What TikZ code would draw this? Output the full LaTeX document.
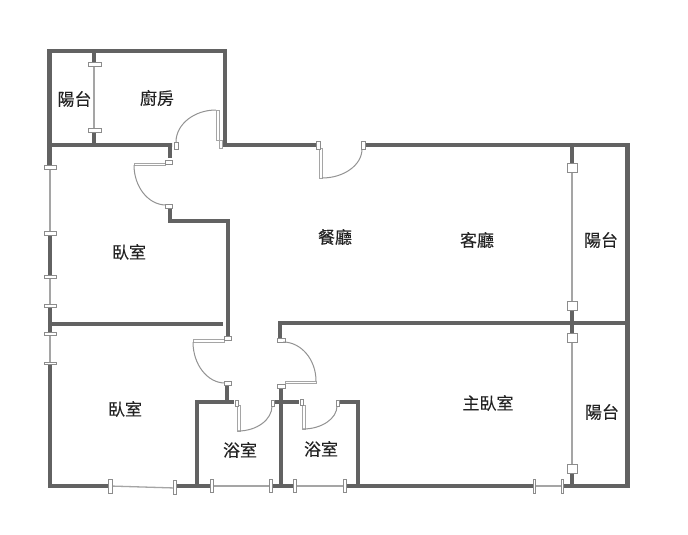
\documentclass[tikz,border=0pt]{standalone}
\usepackage{fontspec}
\newfontfamily\cjkfont[FakeBold=0.15]{Noto Sans CJK TC}
\usetikzlibrary{calc}
\definecolor{wallc}{RGB}{98,98,98}
\definecolor{linec}{RGB}{165,165,165}
\definecolor{textc}{RGB}{35,35,35}
\tikzset{
  wall/.style={draw=wallc,line width=4.5pt,line cap=butt,line join=miter},
  glass/.style={draw=linec,line width=1.3pt},
  capbox/.style={draw=linec!85!black,fill=white,line width=1pt},
  leaf/.style={draw=linec,fill=white,line width=1pt},
  swing/.style={draw=gray!85,line width=1pt},
  room/.style={font=\cjkfont\fontsize{17}{18}\selectfont,text=textc,inner sep=0pt}
}
\newcommand{\doorarc}[3]{\draw[swing] (#1) .. controls ($(#1)!.55!(#2)$) and ($(#3)!.55!(#2)$) .. (#3);}
\begin{document}
\begin{tikzpicture}[x=1pt,y=-1pt]
\useasboundingbox (0,0) rectangle (688,535);
\fill[white] (0,0) rectangle (688,535);
% glass lines
\draw[glass] (94,65) -- (94,130);
\draw[glass] (50,167) -- (50,232);
\draw[glass] (50,276) -- (50,305);
\draw[glass] (50,333) -- (50,363);
\draw[glass] (110,486) -- (175,488);
\draw[glass] (212,486) -- (271,486);
\draw[glass] (295,486) -- (344,486);
\draw[glass] (534,486) -- (562,486);
\draw[glass] (572,170) -- (572,303);
\draw[glass] (572,340) -- (572,466);
% walls
\draw[wall] (49.5,165) -- (49.5,51) -- (225,51) -- (225,145) -- (317,145);
\draw[wall] (94,51) -- (94,64);
\draw[wall] (94,131) -- (94,145);
\draw[wall] (49.5,145) -- (172,145) -- (170,145) -- (170,158);
\draw[wall] (170,208) -- (170,221) -- (228,221) -- (228,336);
\draw[wall] (50,234) -- (50,275);
\draw[wall] (50,306) -- (50,332);
\draw[wall] (50,324) -- (223,324);
\draw[wall] (50,364) -- (50,486) -- (110,486);
\draw[wall] (175,486) -- (212,486);
\draw[wall] (197,486) -- (197,402) -- (234,402);
\draw[wall] (227,386) -- (227,402);
\draw[wall] (271,486) -- (295,486);
\draw[wall] (281,486) -- (281,386);
\draw[wall] (274,402) -- (299,402);
\draw[wall] (339,402) -- (358,402) -- (358,486);
\draw[wall] (344,486) -- (534,486);
\draw[wall] (562,486) -- (627.5,486) -- (627.5,145) -- (366,145);
\draw[wall] (280,338) -- (280,323) -- (627.5,323);
\draw[wall] (572,145) -- (572,164);
\draw[wall] (572,309) -- (572,334);
\draw[wall] (572,472) -- (572,486);
% window caps
\draw[capbox] (88,63) rectangle (101,67);
\draw[capbox] (88,128) rectangle (101,132);
\draw[capbox] (44,165) rectangle (56,169);
\draw[capbox] (44,231) rectangle (56,235);
\draw[capbox] (44,275.5) rectangle (56,278);
\draw[capbox] (44,304.5) rectangle (56,307);
\draw[capbox] (44,332.5) rectangle (56,335);
\draw[capbox] (44,362) rectangle (56,364.5);
\draw[capbox] (108,479) rectangle (112,493);
\draw[capbox] (173.5,480) rectangle (176.5,494);
\draw[capbox] (210.5,479) rectangle (213.5,492);
\draw[capbox] (269,479) rectangle (272,492);
\draw[capbox] (293.5,479) rectangle (296.5,492);
\draw[capbox] (343,479) rectangle (346,492);
\draw[capbox] (533,479) rectangle (535.5,493);
\draw[capbox] (561,479) rectangle (563.5,493);
\draw[capbox] (567,163) rectangle (577,172);
\draw[capbox] (567,301) rectangle (577,310);
\draw[capbox] (567,333) rectangle (577,342);
\draw[capbox] (567,464) rectangle (577,473);
% door leaves and jambs
\draw[leaf] (216,110) rectangle (219,140);
\draw[leaf] (219,140) rectangle (222,148);
\draw[capbox] (174,142) rectangle (178,149);
\draw[leaf] (134,163) rectangle (165,165);
\draw[capbox] (165,160) rectangle (172,164);
\draw[capbox] (165,204.5) rectangle (172,208.5);
\draw[leaf] (319,148) rectangle (322,178);
\draw[capbox] (316,141) rectangle (320,149);
\draw[capbox] (361,141) rectangle (365,149);
\draw[leaf] (193,339.5) rectangle (224,342);
\draw[capbox] (224,336.5) rectangle (231,340.5);
\draw[capbox] (224,381.5) rectangle (231,385.5);
\draw[capbox] (277,338.5) rectangle (285,342);
\draw[leaf] (285,381) rectangle (316,383.5);
\draw[capbox] (277,384) rectangle (285,388);
\draw[leaf] (237,405) rectangle (240,431);
\draw[capbox] (235,400) rectangle (238,406);
\draw[capbox] (271,400) rectangle (274,406);
\draw[leaf] (302,405) rectangle (305,429);
\draw[capbox] (300,399) rectangle (303,405);
\draw[capbox] (336,400) rectangle (339,406);
% swings
\doorarc{216,110}{176,110}{176,142}
\doorarc{134,165}{134,205}{166,205}
\doorarc{322,178}{362,178}{362,149}
\doorarc{193,342}{193,383}{225,383}
\doorarc{283,342}{316,342}{316,381}
\doorarc{238,431}{272,431}{272,406}
\doorarc{303,429}{337,429}{337,406}
% labels
\node[room] (balconyA) at (74.5,99) {陽台};
\node[room] (kitchen) at (157,98) {廚房};
\node[room] (dining) at (335,237) {餐廳};
\node[room] (living) at (477,240) {客廳};
\node[room] (balconyB) at (601,240) {陽台};
\node[room] (bedA) at (129,252) {臥室};
\node[room] (bedB) at (125,409) {臥室};
\node[room] (master) at (488,403) {主臥室};
\node[room] (balconyC) at (602,412) {陽台};
\node[room] (bathA) at (240,450) {浴室};
\node[room] (bathB) at (321,449) {浴室};
\end{tikzpicture}
\end{document}
